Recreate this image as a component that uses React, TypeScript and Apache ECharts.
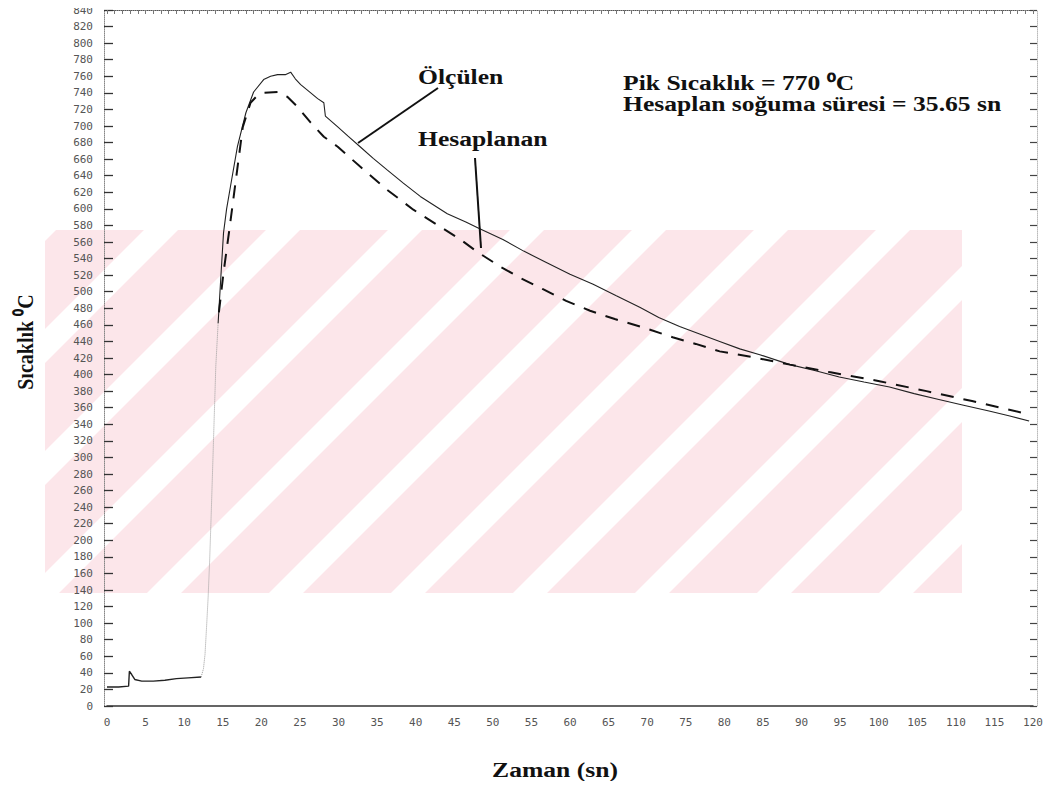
import React, { useEffect, useRef } from "react";
import * as echarts from "echarts";

// ---- data ----
const xMin = 0;
const xMax = 120;
const xStep = 5;
const yMin = 0;
const yMax = 840;
const yStep = 20;

// Ölçülen (measured) – flat start before heating
const measuredBase: [number, number][] = [
  [0, 23], [1.5, 23], [2.8, 24], [2.9, 42], [3.2, 38], [3.6, 32], [4.5, 30],
  [6, 30], [7.5, 31], [9, 33], [10.5, 34], [12.2, 35],
];
// Ölçülen – fast rise (faint dotted trace)
const measuredRise: [number, number][] = [
  [12.2, 35], [12.5, 45], [12.7, 62], [12.9, 95], [13.1, 130], [13.3, 175],
  [13.5, 230], [13.7, 290], [13.9, 350], [14.1, 410], [14.4, 462],
];
// Ölçülen – peak and cooling
const measuredMain: [number, number][] = [
  [14.4, 462], [14.8, 525], [15.1, 571], [15.5, 600], [16.0, 627], [16.9, 675],
  [18.0, 716], [19.0, 741], [20.3, 756], [21.2, 760], [22.1, 762], [23.1, 762],
  [23.8, 765], [24.4, 757], [25.1, 750], [26.4, 740], [27.3, 733], [28.1, 728],
  [28.3, 712], [29.9, 699], [31.2, 688], [32.8, 675], [34.5, 661], [36.3, 647],
  [38.4, 631], [40.6, 615], [44.1, 594], [46.5, 584], [48.1, 577], [51.3, 563],
  [54, 549], [57.0, 535], [60, 521], [63.0, 509], [66, 495], [69.1, 481],
  [71.5, 469], [74.2, 458], [76.8, 449], [79.4, 440], [82.0, 431], [84.6, 424],
  [88.5, 412], [91.7, 405], [94.9, 397], [98.1, 391], [101.4, 385], [104.6, 377],
  [107.8, 370], [111, 363], [114.3, 356], [117, 350], [119.5, 344],
];
// Hesaplanan (computed)
const computed: [number, number][] = [
  [14.5, 475], [15.1, 523], [15.8, 571], [16.7, 635], [17.6, 699], [18.6, 728],
  [19.4, 736], [20.3, 740], [22.1, 741], [23.4, 735], [24.7, 723], [26.4, 704],
  [28.1, 687], [29.9, 675], [32.8, 651], [36.3, 623], [39.7, 599], [43.6, 576],
  [45.8, 563], [48.0, 548], [51.0, 530], [53.7, 516], [56.5, 503], [59.5, 489],
  [62.6, 477], [65.8, 467], [69.1, 458], [73.3, 445], [76.3, 437], [79.4, 428],
  [83.7, 421], [88.5, 412], [93.6, 403], [100.1, 392], [106.2, 380], [112.1, 368],
  [119.5, 352],
];

const labelMeasured = "Ölçülen";
const labelComputed = "Hesaplanan";
const infoLine1 = "Pik Sıcaklık = 770 ⁰C";
const infoLine2 = "Hesaplan soğuma süresi = 35.65 sn";
const xTitle = "Zaman (sn)";
const yTitle = "Sıcaklık ⁰C";

const SERIF = '"Liberation Serif", "Times New Roman", serif';
const MONO = '"DejaVu Sans Mono", "Liberation Mono", monospace';

// ---- background watermark geometry (pixel layout, decoration only) ----
type Pt = [number, number];
function clipPoly(poly: Pt[], x0: number, y0: number, x1: number, y1: number): Pt[] {
  const edges: [(p: Pt) => boolean, (a: Pt, b: Pt) => Pt][] = [
    [(p) => p[0] >= x0, (a, b) => { const t = (x0 - a[0]) / (b[0] - a[0]); return [x0, a[1] + t * (b[1] - a[1])]; }],
    [(p) => p[0] <= x1, (a, b) => { const t = (x1 - a[0]) / (b[0] - a[0]); return [x1, a[1] + t * (b[1] - a[1])]; }],
    [(p) => p[1] >= y0, (a, b) => { const t = (y0 - a[1]) / (b[1] - a[1]); return [a[0] + t * (b[0] - a[0]), y0]; }],
    [(p) => p[1] <= y1, (a, b) => { const t = (y1 - a[1]) / (b[1] - a[1]); return [a[0] + t * (b[0] - a[0]), y1]; }],
  ];
  let out = poly;
  for (const [inside, inter] of edges) {
    const input = out;
    out = [];
    for (let i = 0; i < input.length; i++) {
      const cur = input[i];
      const prev = input[(i + input.length - 1) % input.length];
      if (inside(cur)) {
        if (!inside(prev)) out.push(inter(prev, cur));
        out.push(cur);
      } else if (inside(prev)) {
        out.push(inter(prev, cur));
      }
    }
    if (!out.length) break;
  }
  return out;
}

function watermark(): any[] {
  const X0 = 45, X1 = 962, Y0 = 230, Y1 = 593;
  const W = 34, P = 122;
  const pink = "#fce6ea";
  const els: any[] = [
    { type: "rect", z: -20, silent: true, shape: { x: X0, y: Y0, width: X1 - X0, height: Y1 - Y0 }, style: { fill: pink } },
  ];
  for (let k = -4; k <= 8; k++) {
    const c = 740 + P * k; // white band: x + y in [c, c+W]
    const slash: Pt[] = [[c - Y0, Y0], [c + W - Y0, Y0], [c + W - Y1, Y1], [c - Y1, Y1]];
    const cp = clipPoly(slash, X0, Y0, X1, Y1);
    if (cp.length >= 3) {
      els.push({ type: "polygon", z: -19, silent: true, shape: { points: cp }, style: { fill: "#ffffff" } });
    }
  }
  return els;
}

export default function App() {
  const ref = useRef<HTMLDivElement>(null);

  useEffect(() => {
    if (!ref.current) return;
    const chart = echarts.init(ref.current, undefined, { renderer: "svg" });
    const tickLabel = { fontFamily: MONO, fontSize: 11, color: "#555" };
    const titleText = (text: string, x: number, y: number) => ({
      type: "text",
      x,
      y,
      scaleX: 1.28,
      z: 10,
      style: {
        text,
        font: `bold 20px ${SERIF}`,
        fill: "#111",
        textAlign: "left",
        textVerticalAlign: "middle",
        align: "left",
        verticalAlign: "middle",
      },
    });

    chart.setOption({
      animation: false,
      backgroundColor: "#ffffff",
      grid: { left: 107, right: 27, top: 10, bottom: 83, containLabel: false },
      xAxis: [
        {
          type: "value",
          min: xMin,
          max: xMax,
          interval: xStep,
          position: "bottom",
          axisLine: { show: true, onZero: false, lineStyle: { color: "#333", width: 1.5 } },
          axisTick: { show: false },
          axisLabel: { ...tickLabel, margin: 11 },
          splitLine: { show: false },
        },
        {
          type: "value",
          min: xMin,
          max: xMax,
          interval: 1,
          position: "top",
          axisLine: { show: true, onZero: false, lineStyle: { color: "#555", width: 1, type: "dotted" } },
          axisTick: { show: true, inside: true, length: 4, lineStyle: { color: "#777" } },
          axisLabel: { show: false },
          splitLine: { show: false },
        },
      ],
      yAxis: [
        {
          type: "value",
          min: yMin,
          max: yMax,
          interval: yStep,
          position: "left",
          offset: 3,
          axisLine: { show: true, onZero: false, lineStyle: { color: "#888", width: 1, type: "dotted" } },
          axisTick: { show: true, inside: true, length: 9, lineStyle: { color: "#333", width: 1.3 } },
          axisLabel: { ...tickLabel, margin: 11 },
          splitLine: { show: false },
        },
        {
          type: "value",
          min: yMin,
          max: yMax,
          interval: yStep,
          position: "right",
          offset: 4,
          axisLine: { show: true, onZero: false, lineStyle: { color: "#bbb", width: 1, type: "dotted" } },
          axisTick: { show: true, inside: true, length: 7, lineStyle: { color: "#444", width: 1.2 } },
          axisLabel: { show: false },
          splitLine: { show: false },
        },
      ],
      series: [
        {
          name: labelMeasured,
          type: "line",
          data: measuredBase,
          showSymbol: false,
          lineStyle: { color: "#222", width: 1.4 },
          z: 3,
        },
        {
          name: labelMeasured + " (yükselme)",
          type: "line",
          data: measuredRise,
          showSymbol: false,
          lineStyle: { color: "#999", width: 1, type: "dotted" },
          z: 3,
        },
        {
          name: labelMeasured,
          type: "line",
          data: measuredMain,
          showSymbol: false,
          lineStyle: { color: "#222", width: 1.1 },
          z: 3,
        },
        {
          name: labelComputed,
          type: "line",
          data: computed,
          showSymbol: false,
          lineStyle: { color: "#111", width: 2, type: [13, 10] },
          z: 4,
        },
      ],
      graphic: [
        ...watermark(),
        titleText(labelMeasured, 418, 77),
        titleText(labelComputed, 418, 139),
        titleText(infoLine1, 623, 83),
        titleText(infoLine2, 623, 104),
        {
          type: "text",
          x: 555,
          y: 770,
          scaleX: 1.28,
          z: 10,
          style: {
            text: xTitle,
            font: `bold 20px ${SERIF}`,
            fill: "#111",
            textAlign: "center",
            textVerticalAlign: "middle",
            align: "center",
            verticalAlign: "middle",
          },
        },
        {
          type: "text",
          x: 25,
          y: 342,
          rotation: Math.PI / 2,
          scaleY: 1.2,
          z: 10,
          style: {
            text: yTitle,
            font: `bold 20px ${SERIF}`,
            fill: "#111",
            textAlign: "center",
            textVerticalAlign: "middle",
            align: "center",
            verticalAlign: "middle",
          },
        },
        {
          type: "line",
          z: 10,
          shape: { x1: 438, y1: 88, x2: 358, y2: 143 },
          style: { stroke: "#111", lineWidth: 2 },
        },
        {
          type: "line",
          z: 10,
          shape: { x1: 475, y1: 158, x2: 481, y2: 248 },
          style: { stroke: "#111", lineWidth: 2 },
        },
      ],
    });
    return () => chart.dispose();
  }, []);

  return <div ref={ref} style={{ width: 1060, height: 789, margin: -8 }} />;
}
